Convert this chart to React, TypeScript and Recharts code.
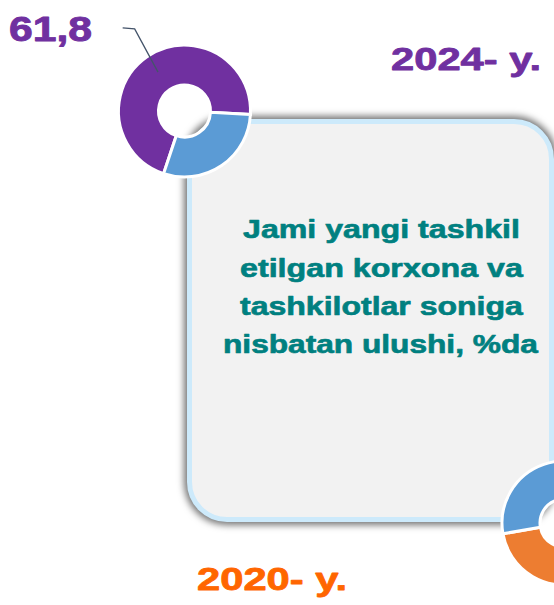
import React from 'react';
import { PieChart, Pie, Cell } from 'recharts';

const categories = ['Asosiy ulush', 'Boshqalar'];
const values2024 = [61.8, 25.6];
const values2020 = [55.0, 45.0];
const colors2024 = ['#7030A0', '#5B9BD5'];
const colors2020 = ['#ED7D31', '#5B9BD5'];
const yearLabels = ['2024- y.', '2020- y.'];
const titleLines = ['Jami yangi tashkil', 'etilgan korxona va', 'tashkilotlar soniga', 'nisbatan ulushi, %da'];

const data2024 = categories.map((c, i) => ({ name: c, value: values2024[i] }));
const data2020 = categories.map((c, i) => ({ name: c, value: values2020[i] }));

const font = "'Liberation Sans', Arial, sans-serif";
const RAD = Math.PI / 180;
const polar = (cx: number, cy: number, r: number, a: number) => ({ x: cx + r * Math.cos(-a * RAD), y: cy + r * Math.sin(-a * RAD) });

let ctx: CanvasRenderingContext2D | null = null;
const measure = (t: string, size: number) => {
  if (!ctx) ctx = document.createElement('canvas').getContext('2d');
  if (!ctx) return t.length * size * 0.55;
  ctx.font = `bold ${size}px 'Liberation Sans', Arial, sans-serif`;
  return ctx.measureText(t).width;
};

const WideText = ({ x, y, w, size, color, children }: { x: number; y: number; w: number; size: number; color: string; children: string }) => {
  const s = w / measure(children, size);
  return (
    <g transform={`translate(${x},${y}) scale(${s},1)`}>
      <text x={0} y={0} fontFamily={font} fontWeight="bold" fontSize={size} fill={color} stroke={color} strokeWidth={size * 0.025} strokeLinejoin="round">{children}</text>
    </g>
  );
};

const renderLabel2024 = (props: any) => {
  const { cx, cy, midAngle, index, value } = props;
  if (index !== 0) return null;
  const p1 = polar(cx, cy, 47, midAngle);
  const p2 = polar(cx, cy, 96, midAngle - 3);
  const p3 = { x: p2.x - 12, y: p2.y - 1 };
  const txt = String(value).replace('.', ',');
  return (
    <g>
      <polyline points={`${p1.x},${p1.y} ${p2.x},${p2.y} ${p3.x},${p3.y}`} fill="none" stroke="#44546A" strokeWidth={1.3} />
      <WideText x={9} y={41} w={83} size={36} color="#7030A0">{txt}</WideText>
    </g>
  );
};

const titleX = [243, 240, 240, 223];
const titleW = [277, 283, 283, 315];
const titleY = [238, 276.5, 315, 353];

export default function App() {
  return (
    <div style={{ position: 'absolute', left: 0, top: 0, width: 554, height: 605, overflow: 'hidden', background: '#fff' }}>
      <div style={{ position: 'absolute', left: 187, top: 119, width: 367, height: 403, boxSizing: 'border-box', border: '5px solid #CDEAFB', borderRadius: 40, background: '#F2F2F2', boxShadow: '0 0 7px 3px rgba(0,0,0,0.55)' }} />
      <div style={{ position: 'absolute', left: 0, top: 0 }}>
        <PieChart width={554} height={605} margin={{ top: 0, right: 0, bottom: 0, left: 0 }}>
          <Pie data={data2024} dataKey="value" nameKey="name" cx={184.5} cy={111} innerRadius={26} outerRadius={66} startAngle={-3} endAngle={357} stroke="#fff" strokeWidth={3} isAnimationActive={false} label={renderLabel2024} labelLine={false}>
            {data2024.map((d, i) => <Cell key={d.name} fill={colors2024[i]} />)}
          </Pie>
          <Pie data={data2020} dataKey="value" nameKey="name" cx={564} cy={523} innerRadius={24} outerRadius={62} startAngle={190} endAngle={550} stroke="#fff" strokeWidth={3} isAnimationActive={false}>
            {data2020.map((d, i) => <Cell key={d.name} fill={colors2020[i]} />)}
          </Pie>
          <WideText x={391} y={70} w={150} size={32} color="#7030A0">{yearLabels[0]}</WideText>
          <WideText x={197} y={590} w={150} size={32} color="#FF6600">{yearLabels[1]}</WideText>
          {titleLines.map((t, i) => (
            <WideText key={t} x={titleX[i]} y={titleY[i]} w={titleW[i]} size={25} color="#008080">{t}</WideText>
          ))}
        </PieChart>
      </div>
    </div>
  );
}
